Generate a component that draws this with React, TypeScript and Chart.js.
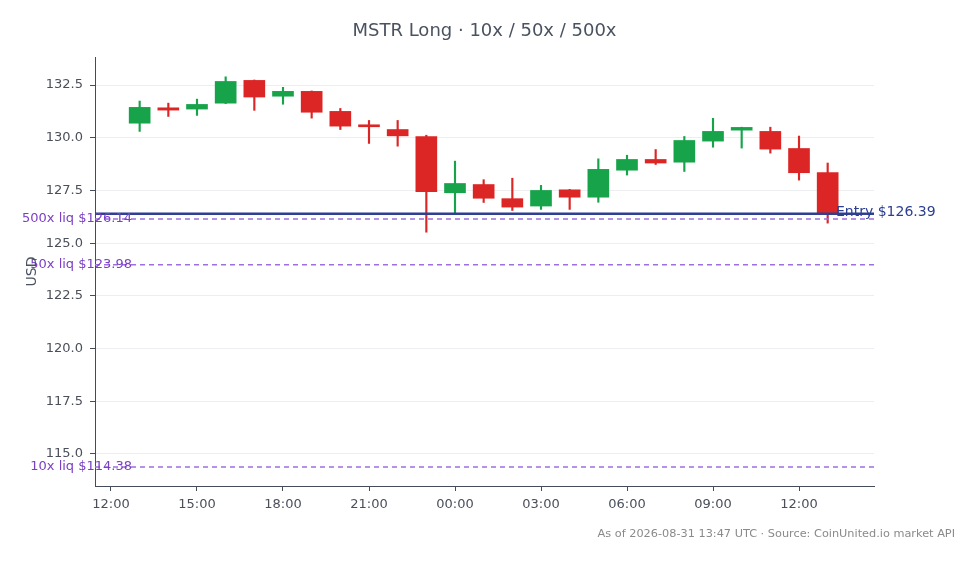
import React, { useEffect, useRef } from "react";
import { Chart, registerables } from "chart.js";

Chart.register(...registerables);

// ---- Data ----
const candleHours = [13, 14, 15, 16, 17, 18, 19, 20, 21, 22, 23, 24, 25, 26, 27, 28, 29, 30, 31, 32, 33, 34, 35, 36, 37];
const opens = [130.69, 131.42, 131.36, 131.64, 132.72, 131.97, 132.2, 131.25, 130.6, 130.39, 130.06, 127.39, 127.78, 127.11, 126.76, 127.53, 127.18, 128.46, 128.97, 128.84, 129.84, 130.36, 130.3, 129.49, 128.35];
const highs = [131.74, 131.64, 131.83, 132.89, 132.74, 132.39, 132.22, 131.39, 130.82, 130.82, 130.12, 128.89, 128.01, 128.08, 127.74, 127.55, 129.0, 129.17, 129.44, 130.06, 130.92, 130.5, 130.5, 130.08, 128.8];
const lows = [130.3, 131.01, 131.06, 131.62, 131.3, 131.59, 130.93, 130.39, 129.73, 129.6, 125.52, 126.38, 126.93, 126.55, 126.6, 126.6, 126.94, 128.23, 128.73, 128.4, 129.55, 129.51, 129.27, 127.99, 125.95];
const closes = [131.44, 131.31, 131.58, 132.67, 131.93, 132.2, 131.21, 130.55, 130.52, 130.09, 127.44, 127.83, 127.13, 126.71, 127.5, 127.18, 128.5, 128.97, 128.8, 129.87, 130.3, 130.49, 129.46, 128.34, 126.39];

const xTickHours = [12, 15, 18, 21, 24, 27, 30, 33, 36];
const xTickLabels = ["12:00", "15:00", "18:00", "21:00", "00:00", "03:00", "06:00", "09:00", "12:00"];
const yTickValues = [115, 117.5, 120, 122.5, 125, 127.5, 130, 132.5];

const entryPrice = 126.39;
const entryLabel = "Entry $126.39";
const liqPrices = [126.14, 123.98, 114.38];
const liqLabels = ["500x liq $126.14", "50x liq $123.98", "10x liq $114.38"];

const titleText = "MSTR Long · 10x / 50x / 500x";
const footerText = "As of 2026-08-31 13:47 UTC · Source: CoinUnited.io market API";
const yAxisTitle = "USD";

const UP = "#16a34a";
const DOWN = "#dc2626";
const FONT = "'DejaVu Sans', sans-serif";

const overlayPlugin = {
  id: "overlay",
  afterDatasetsDraw(chart: any) {
    const { ctx, chartArea, scales } = chart;
    const y = scales.y;
    ctx.save();
    ctx.strokeStyle = "#9d6fe0";
    ctx.lineWidth = 1.5;
    ctx.setLineDash([5, 4]);
    liqPrices.forEach((p) => {
      const py = y.getPixelForValue(p);
      ctx.beginPath();
      ctx.moveTo(chartArea.left, py);
      ctx.lineTo(chartArea.right, py);
      ctx.stroke();
    });
    ctx.setLineDash([]);
    ctx.strokeStyle = "#2f3f92";
    ctx.lineWidth = 2.5;
    const ey = y.getPixelForValue(entryPrice);
    ctx.beginPath();
    ctx.moveTo(chartArea.left, ey);
    ctx.lineTo(chartArea.right, ey);
    ctx.stroke();
    ctx.restore();
  },
  afterDraw(chart: any) {
    const { ctx, chartArea, scales, width } = chart;
    const y = scales.y;
    ctx.save();
    ctx.textBaseline = "middle";
    ctx.font = `13px ${FONT}`;
    ctx.fillStyle = "#7b3fc6";
    ctx.textAlign = "right";
    liqPrices.forEach((p, i) => {
      ctx.fillText(liqLabels[i], chartArea.left + 37, y.getPixelForValue(p));
    });
    ctx.font = `14px ${FONT}`;
    ctx.fillStyle = "#2c3f8f";
    ctx.textAlign = "left";
    ctx.fillText(entryLabel, chartArea.right - 38, y.getPixelForValue(entryPrice) - 1.5);
    ctx.font = `18px ${FONT}`;
    ctx.fillStyle = "#4a5260";
    ctx.textAlign = "center";
    ctx.fillText(titleText, (chartArea.left + chartArea.right) / 2, 31);
    ctx.font = `11.3px ${FONT}`;
    ctx.fillStyle = "#8a8a8a";
    ctx.textAlign = "right";
    ctx.fillText(footerText, width - 24, 534);
    ctx.font = `14px ${FONT}`;
    ctx.fillStyle = "#4a5260";
    ctx.textAlign = "center";
    ctx.translate(32, (chartArea.top + chartArea.bottom) / 2);
    ctx.rotate(-Math.PI / 2);
    ctx.fillText(yAxisTitle, 0, 0);
    ctx.restore();
  },
};

export default function App() {
  const ref = useRef<HTMLCanvasElement | null>(null);

  useEffect(() => {
    if (!ref.current) return;
    const colors = candleHours.map((_, i) => (closes[i] >= opens[i] ? UP : DOWN));
    const chart = new Chart(ref.current, {
      type: "bar",
      data: {
        datasets: [
          {
            label: "body",
            data: candleHours.map((h, i) => ({ x: h, y: [opens[i], closes[i]] })) as any,
            backgroundColor: colors,
            borderWidth: 0,
            barThickness: 21,
            minBarLength: 2,
            grouped: false,
            order: 0,
          },
          {
            label: "wick",
            data: candleHours.map((h, i) => ({ x: h, y: [lows[i], highs[i]] })) as any,
            backgroundColor: colors,
            borderWidth: 0,
            barThickness: 1.5,
            grouped: false,
            order: 1,
          },
        ],
      },
      options: {
        responsive: false,
        animation: false,
        events: [],
        layout: { padding: { top: 57, right: 105, left: 0, bottom: 0 } },
        plugins: {
          legend: { display: false },
          tooltip: { enabled: false },
          title: { display: false },
        },
        scales: {
          x: {
            type: "linear",
            offset: false,
            min: 11.442,
            max: 38.616,
            afterFit: (s: any) => {
              s.height = 78;
            },
            afterBuildTicks: (s: any) => {
              s.ticks = xTickHours.map((v) => ({ value: v }));
            },
            ticks: {
              callback: (v: any) => {
                const i = xTickHours.indexOf(Number(v));
                return i >= 0 ? xTickLabels[i] : "";
              },
              font: { family: FONT, size: 13 },
              color: "#4a4f5a",
              padding: 6,
              maxRotation: 0,
              autoSkip: false,
            },
            grid: {
              display: true,
              offset: false,
              drawOnChartArea: false,
              drawTicks: true,
              tickLength: 5,
              tickColor: "#444c58",
            },
            border: { display: true, color: "#444c58", width: 1 },
          },
          y: {
            type: "linear",
            min: 113.48,
            max: 133.83,
            afterFit: (s: any) => {
              s.width = 95;
            },
            afterBuildTicks: (s: any) => {
              s.ticks = yTickValues.map((v) => ({ value: v }));
            },
            ticks: {
              callback: (v: any) => Number(v).toFixed(1),
              font: { family: FONT, size: 13 },
              color: "#4a4f5a",
              padding: 7,
            },
            grid: {
              color: "#eceef1",
              tickLength: 5,
              tickColor: "#444c58",
            },
            border: { display: true, color: "#444c58", width: 1 },
          },
        },
      },
      plugins: [overlayPlugin],
    });
    return () => chart.destroy();
  }, []);

  return (
    <div style={{ position: "fixed", left: 0, top: 0, width: 979, height: 564, background: "#fff" }}>
      <canvas ref={ref} width={979} height={564} />
    </div>
  );
}
